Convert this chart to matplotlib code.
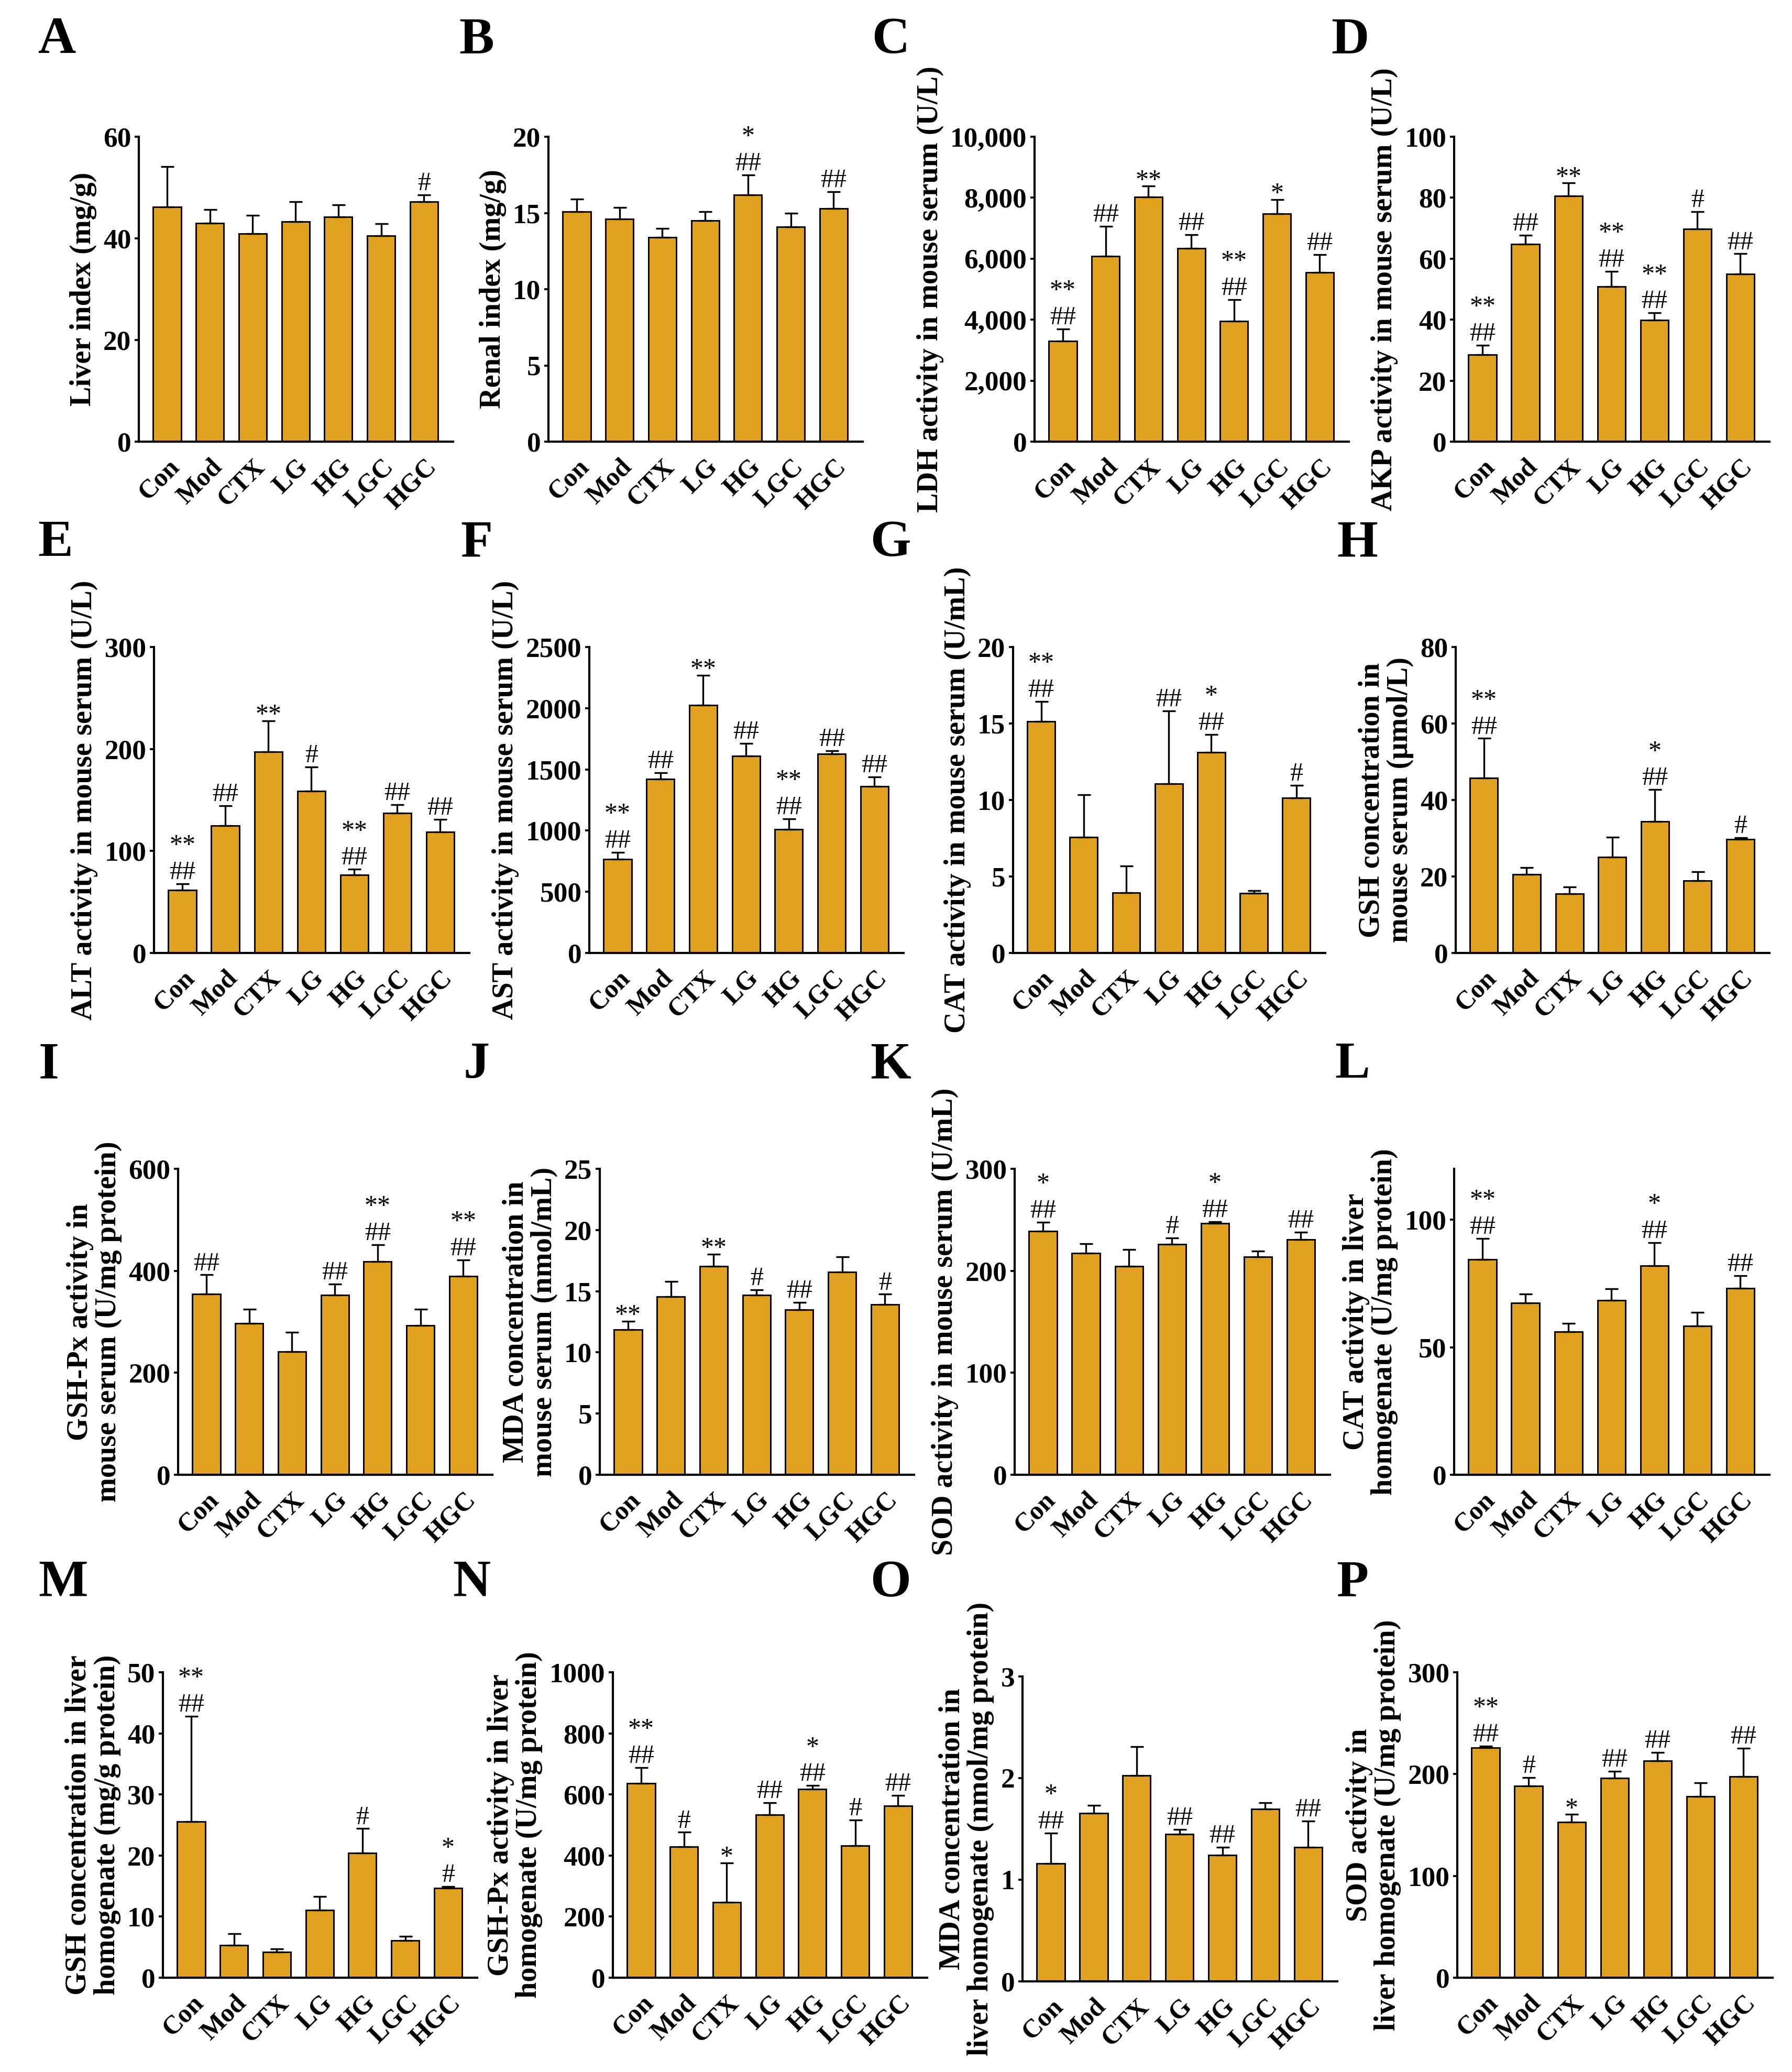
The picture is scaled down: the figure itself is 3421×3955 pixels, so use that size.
import numpy as np
import matplotlib
matplotlib.use('Agg')
import matplotlib.pyplot as plt
from matplotlib.ticker import StrMethodFormatter

# groups on the x axis
groups = ['Con', 'Mod', 'CTX', 'LG', 'HG', 'LGC', 'HGC']

# A - liver index
a_mean = [46.2, 43.0, 40.9, 43.3, 44.2, 40.5, 47.2]
a_sd = [7.9, 2.7, 3.6, 3.9, 2.4, 2.4, 1.4]
a_hash = ['', '', '', '', '', '', '#']
a_star = ['', '', '', '', '', '', '']

# B - renal index
b_mean = [15.1, 14.6, 13.4, 14.5, 16.2, 14.1, 15.3]
b_sd = [0.8, 0.75, 0.6, 0.6, 1.3, 0.9, 1.1]
b_hash = ['', '', '', '', '##', '', '##']
b_star = ['', '', '', '', '*', '', '']

# C - LDH serum
c_mean = [3300, 6075, 8026, 6338, 3947, 7467, 5548]
c_sd = [395, 986, 351, 449, 713, 472, 581]
c_hash = ['##', '##', '', '##', '##', '', '##']
c_star = ['**', '', '**', '', '**', '*', '']

# D - AKP serum
d_mean = [28.5, 64.8, 80.5, 50.9, 39.9, 69.7, 55.0]
d_sd = [3.2, 2.9, 4.3, 4.9, 2.3, 5.8, 6.6]
d_hash = ['##', '##', '', '##', '##', '#', '##']
d_star = ['**', '', '**', '**', '**', '', '']

# E - ALT serum
e_mean = [61.6, 124.9, 197.4, 158.7, 76.4, 137.4, 118.7]
e_sd = [6.3, 19.7, 30.1, 23.9, 5.6, 7.8, 12.4]
e_hash = ['##', '##', '', '#', '##', '##', '##']
e_star = ['**', '', '**', '', '**', '', '']

# F - AST serum
f_mean = [765, 1423, 2023, 1609, 1011, 1626, 1362]
f_sd = [57, 49, 247, 104, 85, 27, 77]
f_hash = ['##', '##', '', '##', '##', '##', '##']
f_star = ['**', '', '**', '', '**', '', '']

# G - CAT serum
g_mean = [15.14, 7.58, 3.94, 11.06, 13.1, 3.9, 10.14]
g_sd = [1.29, 2.76, 1.76, 4.76, 1.18, 0.17, 0.81]
g_hash = ['##', '', '', '##', '##', '', '#']
g_star = ['**', '', '', '', '*', '', '']

# H - GSH serum
h_mean = [45.7, 20.5, 15.5, 25.1, 34.4, 18.9, 29.7]
h_sd = [10.4, 1.8, 1.7, 5.2, 8.3, 2.3, 0.5]
h_hash = ['##', '', '', '', '##', '', '#']
h_star = ['**', '', '', '', '*', '', '']

# I - GSH-Px serum
i_mean = [354, 297, 241, 352, 418, 293, 389]
i_sd = [38, 28, 38, 22, 33, 32, 32]
i_hash = ['##', '', '', '##', '##', '', '##']
i_star = ['', '', '', '', '**', '', '**']

# J - MDA serum
j_mean = [11.86, 14.56, 17.05, 14.7, 13.5, 16.58, 13.93]
j_sd = [0.68, 1.23, 0.98, 0.4, 0.6, 1.21, 0.82]
j_hash = ['', '', '', '#', '##', '', '#']
j_star = ['**', '', '**', '', '', '', '']

# K - SOD serum
k_mean = [239, 217.5, 204.4, 226, 246.8, 213.6, 230.5]
k_sd = [8.5, 8.8, 16.6, 6, 1.2, 5.8, 7.5]
k_hash = ['##', '', '', '#', '##', '', '##']
k_star = ['*', '', '', '', '*', '', '']

# L - CAT liver
l_mean = [84.4, 67.3, 56.0, 68.5, 82.0, 58.4, 73.2]
l_sd = [8.3, 3.6, 3.4, 4.5, 9.1, 5.2, 4.9]
l_hash = ['##', '', '', '', '##', '', '##']
l_star = ['**', '', '', '', '*', '', '']

# M - GSH liver
m_mean = [25.6, 5.3, 4.16, 11.06, 20.4, 6.13, 14.68]
m_sd = [17.2, 1.9, 0.54, 2.24, 4.0, 0.67, 0.27]
m_hash = ['##', '', '', '', '#', '', '#']
m_star = ['**', '', '', '', '', '', '*']

# N - GSH-Px liver
n_mean = [636, 429, 247.5, 533, 617, 433, 563]
n_sd = [52, 47, 128.5, 40, 12, 83, 34]
n_hash = ['##', '#', '', '##', '##', '#', '##']
n_star = ['**', '', '*', '', '*', '', '']

# O - MDA liver
o_mean = [1.161, 1.655, 2.026, 1.447, 1.243, 1.697, 1.322]
o_sd = [0.30, 0.075, 0.284, 0.05, 0.076, 0.06, 0.254]
o_hash = ['##', '', '', '##', '##', '', '##']
o_star = ['*', '', '', '', '', '', '']

# P - SOD liver
p_mean = [225.8, 188.3, 152.8, 196.2, 213.0, 178.1, 197.8]
p_sd = [1.9, 8.5, 7.6, 6.6, 8.2, 13.5, 27.6]
p_hash = ['##', '#', '', '##', '##', '', '##']
p_star = ['**', '', '*', '', '', '', '']

plt.rcParams['font.family'] = ['Liberation Serif', 'DejaVu Serif']
plt.rcParams['font.weight'] = 'bold'

BAR = '#E0A020'
W, H = 3421, 3955
fig = plt.figure(figsize=(W / 300, H / 300), dpi=300)


def make_axes(left, top, right, bottom):
    return fig.add_axes([left / W, 1 - bottom / H, (right - left) / W, (bottom - top) / H])


def draw(ax, mean, sd, hashes, stars, yticks, ylabel, ymax=None, comma=False):
    x = np.arange(len(groups))
    mean = np.array(mean)
    sd = np.array(sd)
    ax.bar(x, mean, width=0.65, color=BAR, edgecolor='black', linewidth=0.7, zorder=2)
    ax.errorbar(x, mean, yerr=[np.zeros(len(x)), sd], fmt='none', ecolor='black',
                elinewidth=0.8, capsize=3, capthick=0.8, zorder=3)
    top = mean + sd
    # significance marks: '#' just above the error bar, '*' stacked above
    for xi, t, hs, st in zip(x, top, hashes, stars):
        if hs:
            ax.annotate(hs, (xi, t), xytext=(0, -0.5), textcoords='offset points',
                        ha='center', va='bottom', fontsize=12, fontweight='normal')
            if st:
                ax.annotate(st, (xi, t), xytext=(0, 11.7), textcoords='offset points',
                            ha='center', va='bottom', fontsize=12, fontweight='normal')
        elif st:
            ax.annotate(st, (xi, t), xytext=(0, -3.2), textcoords='offset points',
                        ha='center', va='bottom', fontsize=12, fontweight='normal')
    ax.set_xlim(-0.66, 6.68)
    ax.set_ylim(0, ymax if ymax is not None else yticks[-1])
    ax.set_yticks(yticks)
    if comma:
        ax.yaxis.set_major_formatter(StrMethodFormatter('{x:,.0f}'))
    ax.set_xticks(x)
    ax.set_xticklabels(groups, rotation=45, ha='right', va='top', rotation_mode='anchor',
                       fontsize=12, fontweight='bold')
    ax.tick_params(axis='x', length=0, pad=6)
    ax.tick_params(axis='y', direction='out', length=2, width=0.9, pad=1.5, labelsize=12.8)
    for lab in ax.get_yticklabels():
        lab.set_fontweight('bold')
    for s in ['top', 'right']:
        ax.spines[s].set_visible(False)
    for s in ['left', 'bottom']:
        ax.spines[s].set_linewidth(1.0)
    ax.set_ylabel(ylabel, fontsize=13.5, fontweight='bold', labelpad=3, linespacing=1.05)


# axes boxes in pixels (left, top, right, bottom)
r1 = (261, 843)
r2 = (1235, 1819)
r3 = (2231, 2815)
r4 = (3192, 3775)

axA = make_axes(265, r1[0], 865, r1[1])
axB = make_axes(1047, r1[0], 1647, r1[1])
axC = make_axes(1975, r1[0], 2575, r1[1])
axD = make_axes(2776, r1[0], 3378, r1[1])
axE = make_axes(294, r2[0], 896, r2[1])
axF = make_axes(1125, r2[0], 1725, r2[1])
axG = make_axes(1934, r2[0], 2530, r2[1])
axH = make_axes(2779, r2[0], 3378, r2[1])
axI = make_axes(340, r3[0], 940, r3[1])
axJ = make_axes(1145, r3[0], 1745, r3[1])
axK = make_axes(1937, r3[0], 2539, r3[1])
axL = make_axes(2776, r3[0], 3378, r3[1])
axM = make_axes(311, r4[0], 911, r4[1])
axN = make_axes(1170, r4[0], 1770, r4[1])
axO = make_axes(1952, r4[0] + 8, 2553, r4[1] + 7)
axP = make_axes(2782, r4[0], 3384, r4[1])

draw(axA, a_mean, a_sd, a_hash, a_star, [0, 20, 40, 60], 'Liver index (mg/g)')
draw(axB, b_mean, b_sd, b_hash, b_star, [0, 5, 10, 15, 20], 'Renal index (mg/g)')
draw(axC, c_mean, c_sd, c_hash, c_star, [0, 2000, 4000, 6000, 8000, 10000],
     'LDH activity in mouse serum (U/L)', comma=True)
draw(axD, d_mean, d_sd, d_hash, d_star, [0, 20, 40, 60, 80, 100], 'AKP activity in mouse serum (U/L)')
draw(axE, e_mean, e_sd, e_hash, e_star, [0, 100, 200, 300], 'ALT activity in mouse serum (U/L)')
draw(axF, f_mean, f_sd, f_hash, f_star, [0, 500, 1000, 1500, 2000, 2500], 'AST activity in mouse serum (U/L)')
draw(axG, g_mean, g_sd, g_hash, g_star, [0, 5, 10, 15, 20], 'CAT activity in mouse serum (U/mL)')
draw(axH, h_mean, h_sd, h_hash, h_star, [0, 20, 40, 60, 80], 'GSH concentration in\nmouse serum (μmol/L)')
draw(axI, i_mean, i_sd, i_hash, i_star, [0, 200, 400, 600], 'GSH-Px activity in\nmouse serum (U/mg protein)')
draw(axJ, j_mean, j_sd, j_hash, j_star, [0, 5, 10, 15, 20, 25], 'MDA concentration in\nmouse serum (nmol/mL)')
draw(axK, k_mean, k_sd, k_hash, k_star, [0, 100, 200, 300], 'SOD activity in mouse serum (U/mL)')
draw(axL, l_mean, l_sd, l_hash, l_star, [0, 50, 100], 'CAT activity in liver\nhomogenate (U/mg protein)', ymax=120)
draw(axM, m_mean, m_sd, m_hash, m_star, [0, 10, 20, 30, 40, 50], 'GSH concentration in liver\nhomogenate (mg/g protein)')
draw(axN, n_mean, n_sd, n_hash, n_star, [0, 200, 400, 600, 800, 1000], 'GSH-Px activity in liver\nhomogenate (U/mg protein)')
draw(axO, o_mean, o_sd, o_hash, o_star, [0, 1, 2, 3], 'MDA concentration in\nliver homogenate (nmol/mg protein)')
draw(axP, p_mean, p_sd, p_hash, p_star, [0, 100, 200, 300], 'SOD activity in\nliver homogenate (U/mg protein)')

# panel letters (pixel centres)
letters = ['A', 'B', 'C', 'D', 'E', 'F', 'G', 'H', 'I', 'J', 'K', 'L', 'M', 'N', 'O', 'P']
letter_x = [109, 910, 1700, 2577, 106, 910, 1700, 2591, 93, 910, 1700, 2582, 120, 900, 1700, 2582]
letter_y = [77] * 4 + [1037] * 4 + [2033] * 4 + [3022] * 4
for t, lx, ly in zip(letters, letter_x, letter_y):
    fig.text(lx / W, 1 - ly / H, t, ha='center', va='center', fontsize=24, fontweight='bold')

plt.savefig('out.png', dpi=300)
plt.close()
